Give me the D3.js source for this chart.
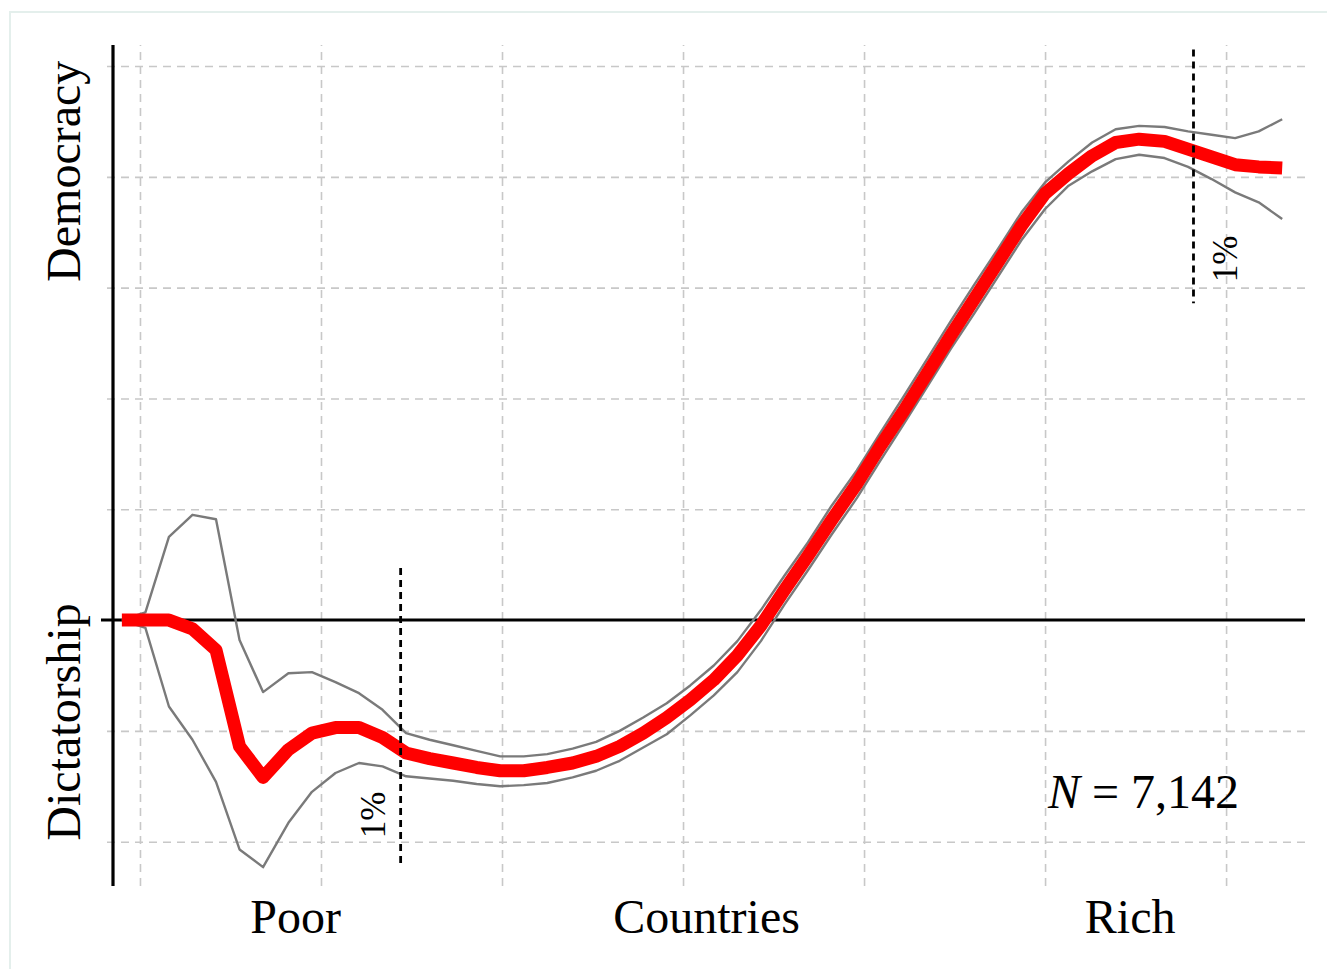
<!DOCTYPE html>
<html>
<head>
<meta charset="utf-8">
<script src="https://cdn.jsdelivr.net/npm/d3@7"></script>
<style>
  html, body { margin: 0; padding: 0; background: #ffffff; }
  svg { display: block; }
  text { font-family: "Liberation Serif", "DejaVu Serif", serif; fill: #000; }
</style>
</head>
<body>
<svg id="chart" width="1327" height="969"></svg>
<script>
// ---- data (x: log income scale, y: regime score; 0 = boundary) ----
const incomeX = [5.90, 6.03, 6.16, 6.29, 6.42, 6.55, 6.68, 6.82, 6.95, 7.08,
                 7.21, 7.34, 7.47, 7.60, 7.73, 7.86, 7.99, 8.12, 8.25, 8.39,
                 8.52, 8.65, 8.78, 8.91, 9.04, 9.17, 9.30, 9.43, 9.56, 9.69,
                 9.82, 9.96, 10.09, 10.22, 10.35, 10.48, 10.61, 10.74, 10.87, 11.00,
                 11.13, 11.26, 11.39, 11.52, 11.66, 11.79, 11.92, 12.05, 12.18, 12.31];
const estimate = [0, 0, 0, -0.08, -0.27, -1.14, -1.42, -1.17, -1.02, -0.97,
                  -0.97, -1.06, -1.20, -1.25, -1.29, -1.33, -1.36, -1.36, -1.33, -1.29,
                  -1.23, -1.14, -1.02, -0.88, -0.72, -0.54, -0.32, -0.05, 0.27, 0.58,
                  0.90, 1.23, 1.57, 1.89, 2.23, 2.57, 2.90, 3.23, 3.56, 3.85,
                  4.03, 4.19, 4.31, 4.34, 4.32, 4.25, 4.18, 4.11, 4.09, 4.08];
const upperCI = [0, 0.07, 0.75, 0.95, 0.91, -0.18, -0.65, -0.48, -0.47, -0.56,
                 -0.66, -0.81, -1.02, -1.08, -1.13, -1.18, -1.23, -1.23, -1.21, -1.16,
                 -1.10, -1.00, -0.88, -0.75, -0.59, -0.41, -0.19, 0.09, 0.40, 0.70,
                 1.03, 1.35, 1.69, 2.02, 2.36, 2.70, 3.03, 3.35, 3.68, 3.95,
                 4.14, 4.31, 4.43, 4.46, 4.45, 4.41, 4.38, 4.35, 4.41, 4.52];
const lowerCI = [0, -0.07, -0.78, -1.08, -1.46, -2.07, -2.23, -1.83, -1.55, -1.38,
                 -1.29, -1.32, -1.41, -1.43, -1.45, -1.48, -1.50, -1.49, -1.47, -1.42,
                 -1.36, -1.27, -1.15, -1.03, -0.86, -0.68, -0.47, -0.19, 0.14, 0.45,
                 0.77, 1.10, 1.44, 1.77, 2.11, 2.45, 2.77, 3.10, 3.43, 3.71,
                 3.92, 4.05, 4.16, 4.20, 4.17, 4.09, 3.98, 3.86, 3.77, 3.62];
const xGrid = [6, 7, 8, 9, 10, 11, 12];
const yGrid = [-2, -1, 1, 2, 3, 4, 5];
const xDomain = [5.851, 12.436];
const yDomain = [-2.40, 5.19];
// 1% trimming markers: [x, yTop, yBottom]
const trimMarkers = [[7.44, 0.47, -2.22], [11.82, 5.15, 2.86]];
const trimLabels = ["1%", "1%"];
const bottomLabels = [{ text: "Poor", x: 6.86 }, { text: "Countries", x: 9.13 }, { text: "Rich", x: 11.47 }];
const sideLabels = [{ text: "Democracy", y: 4.05 }, { text: "Dictatorship", y: -0.92 }];
const nLabel = { italic: "N", rest: " = 7,142", x: 10.01, y: -1.7 };

// ---- scales ----
const svg = d3.select("#chart");
const x = d3.scaleLinear().domain(xDomain).range([113, 1305]);
const y = d3.scaleLinear().domain(yDomain).range([886, 45]);

// faint outer frame (top + left visible)
svg.append("rect").attr("x", 10).attr("y", 12).attr("width", 1340).attr("height", 980)
  .attr("fill", "none").attr("stroke", "#e4efec").attr("stroke-width", 2);

// ---- grid via axes ----
const gx = svg.append("g").attr("transform", `translate(0,${y(yDomain[0])})`)
  .call(d3.axisBottom(x).tickValues(xGrid).tickSize(-(y(yDomain[0]) - y(yDomain[1]))).tickFormat(""));
gx.select(".domain").remove();
gx.selectAll("line").attr("stroke", "#c8c8c8").attr("stroke-width", 1.6).attr("stroke-dasharray", "8,6");

const gy = svg.append("g").attr("transform", `translate(${x.range()[1]},0)`)
  .call(d3.axisLeft(y).tickValues(yGrid).tickSize(x.range()[1] - 101).tickFormat(""));
gy.select(".domain").remove();
gy.selectAll("line").attr("stroke", "#c8c8c8").attr("stroke-width", 1.6).attr("stroke-dasharray", "8,6");

// zero line
svg.append("line").attr("x1", 101).attr("x2", x.range()[1])
  .attr("y1", y(0)).attr("y2", y(0)).attr("stroke", "#000").attr("stroke-width", 3);
// y axis line
svg.append("line").attr("x1", x(xDomain[0])).attr("x2", x(xDomain[0]))
  .attr("y1", y(yDomain[1])).attr("y2", y(yDomain[0])).attr("stroke", "#000").attr("stroke-width", 3.2);

// ---- lines ----
const line = d3.line().x(d => x(d[0])).y(d => y(d[1]));
const zip = arr => incomeX.map((v, i) => [v, arr[i]]);

[upperCI, lowerCI].forEach(arr => {
  svg.append("path").datum(zip(arr)).attr("d", line)
    .attr("fill", "none").attr("stroke", "#7a7a7a").attr("stroke-width", 2.4)
    .attr("stroke-linejoin", "round");
});
svg.append("path").datum(zip(estimate)).attr("d", line)
  .attr("fill", "none").attr("stroke", "#ff0000").attr("stroke-width", 13)
  .attr("stroke-linejoin", "round");

// ---- 1% markers ----
trimMarkers.forEach((m, i) => {
  svg.append("line").attr("x1", x(m[0])).attr("x2", x(m[0]))
    .attr("y1", y(m[1])).attr("y2", y(m[2]))
    .attr("stroke", "#000").attr("stroke-width", 2.8).attr("stroke-dasharray", "7,5");
});
// labels for markers (rotated)
const markerLabelPos = [[385, 815], [1237, 259]];
trimLabels.forEach((t, i) => {
  const [lx, ly] = markerLabelPos[i];
  svg.append("text").attr("transform", `translate(${lx},${ly}) rotate(-90)`)
    .attr("text-anchor", "middle").attr("font-size", 35).text(t);
});

// ---- side labels ----
sideLabels.forEach(s => {
  svg.append("text").attr("transform", `translate(80,${y(s.y)}) rotate(-90)`)
    .attr("text-anchor", "middle").attr("font-size", 48).text(s.text);
});

// ---- bottom labels ----
bottomLabels.forEach(b => {
  svg.append("text").attr("x", x(b.x)).attr("y", 933)
    .attr("text-anchor", "middle").attr("font-size", 48).text(b.text);
});

// ---- N label ----
const nt = svg.append("text").attr("x", 1048).attr("y", 808).attr("font-size", 48);
nt.append("tspan").attr("font-style", "italic").text(nLabel.italic);
nt.append("tspan").text(nLabel.rest);
</script>
</body>
</html>
